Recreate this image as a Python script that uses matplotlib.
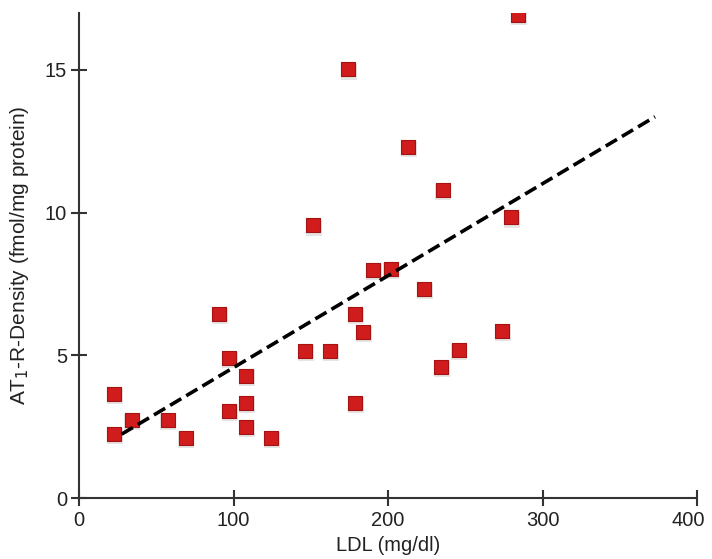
import numpy as np
import matplotlib
matplotlib.use("Agg")
from matplotlib import pyplot as plt
from matplotlib.transforms import ScaledTranslation

plt.rcParams['font.family'] = ['Liberation Sans', 'DejaVu Sans']

# LDL (mg/dl) vs AT1-R density
ldl = [22.7, 22.7, 34.1, 57.4, 69.0, 90.6, 96.9, 96.9, 107.9, 107.9,
       107.9, 124.1, 146.5, 162.5, 178.6, 178.6, 184.0, 223.5, 273.6, 245.7,
       234.5, 284.4, 213.1, 235.3, 279.6, 190.5, 201.7, 174.3, 151.7]
density = [3.66, 2.24, 2.73, 2.73, 2.12, 6.46, 4.92, 3.05, 4.27, 3.33,
           2.49, 2.12, 5.17, 5.17, 6.46, 3.33, 5.82, 7.33, 5.85, 5.20,
           4.59, 16.92, 12.31, 10.79, 9.84, 8.00, 8.03, 15.02, 9.55]

# regression line end points
fit_x = [27.6, 372.8]
fit_y = [2.24, 13.36]

fig = plt.figure(figsize=(7.12, 5.59), dpi=100)
ax = fig.add_axes([0.111, 0.109, 0.868, 0.868])

# soft shadow under each square, then the square itself
ax.scatter(np.array(ldl) + 0.5, np.array(density) - 0.08, marker='s', s=125,
           color='#000000', alpha=0.10, linewidths=0, zorder=2)
ax.scatter(ldl, density, marker='s', s=115, color='#d01c1c',
           edgecolors='#a51212', linewidths=0.8, zorder=3)
ax.plot(fit_x, fit_y, color='black', linestyle=(0, (3.6, 1.6)), linewidth=2.6, zorder=4)

ax.set_xlim(0, 400)
ax.set_ylim(0, 17)
ax.set_xticks([0, 100, 200, 300, 400])
ax.set_yticks([0, 5, 10, 15])

for side in ['top', 'right']:
    ax.spines[side].set_visible(False)
for side in ['left', 'bottom']:
    ax.spines[side].set_color('#333333')
    ax.spines[side].set_linewidth(1.5)

ax.tick_params(direction='inout', length=11, width=1.5, color='#333333',
               labelsize=14.5, labelcolor='#222222')
ax.tick_params(axis='x', pad=4)
ax.tick_params(axis='y', pad=3)

# last x label sits right at the edge, nudge it left a bit
last = ax.get_xticklabels()[-1]
last.set_transform(last.get_transform() + ScaledTranslation(-6 / 72, 0, fig.dpi_scale_trans))

ax.set_xlabel('LDL (mg/dl)', fontsize=14.5, color='#222222', labelpad=4)
ax.set_ylabel('AT$_1$-R-Density (fmol/mg protein)', fontsize=15, color='#222222', labelpad=10)

fig.savefig('out.png', dpi=100)
